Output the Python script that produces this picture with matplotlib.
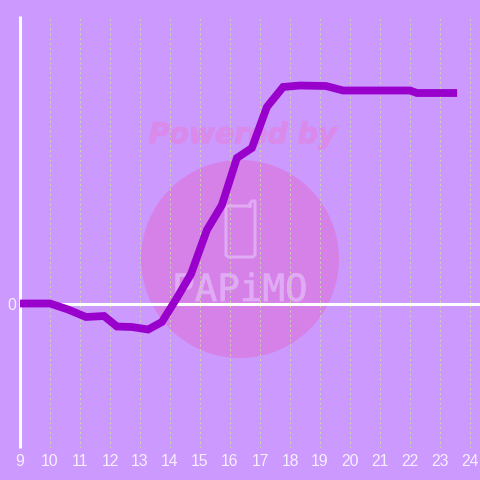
#Recreate the hourly line chart with the watermark behind it
import matplotlib
matplotlib.use("Agg")
import matplotlib.pyplot as plt
import matplotlib.patheffects as pe
from matplotlib.patches import Circle

#Data
hours = [9, 10, 10.6, 11.2, 11.8, 12.23, 12.73, 13.27, 13.73, 14.23, 14.7, 15.23, 15.73, 16.23, 16.73, 17.23, 17.77, 18.33, 19.2, 19.77, 22, 22.23, 23.57]
values = [0, 0, -6, -13.5, -12.5, -23, -23.5, -26, -18.5, 5.5, 29.5, 73.5, 98.5, 145.5, 155.5, 196.5, 216.5, 218, 217.5, 213, 213, 210.5, 210.5]
x_ticks = list(range(9, 25))
y_ticks = [0]

bg_color = "#cc99ff"
line_color = "#9900cc"
grid_color = "#ccd8ac"
mark_color = "#e0aaf4"
powered_color = "#da8aea"

fig = plt.figure(figsize=(4.8, 4.8), dpi=100, facecolor=bg_color)

#Watermark layer, in picture pixels
wm = fig.add_axes([0, 0, 1, 1], zorder=0)
wm.set_xlim(0, 480)
wm.set_ylim(480, 0)
wm.axis("off")
wm.add_patch(Circle((240, 259), 99, facecolor="#d681e8", edgecolor="none"))
wm.text(242.5, 135, "Powered by", family="DejaVu Sans", weight="bold", style="italic",
        fontsize=20.4, color=powered_color, ha="center", va="center",
        path_effects=[pe.withStroke(linewidth=0.8, foreground=powered_color)])
wm.plot([250, 250, 252, 255, 255, 255, 253, 228, 226, 226, 250],
        [206, 203, 201, 201, 203, 255, 257, 257, 255, 206, 206], color=mark_color, lw=2.2)
wm.text(240, 291, "PAPiMO", family="DejaVu Sans Mono", fontsize=27, color=mark_color,
        ha="center", va="center",
        path_effects=[pe.withStroke(linewidth=0.5, foreground=mark_color)])

#Chart layer
ax = fig.add_axes([20 / 480, 32 / 480, 460 / 480, 432 / 480], zorder=1)
ax.patch.set_alpha(0)
ax.set_xlim(9, 9 + 460 / 30)
ax.set_ylim(-144.5, 287.5)
ax.set_xticks(x_ticks)
ax.set_yticks(y_ticks)
ax.tick_params(length=0, labelcolor="#f8f0ff", labelsize=11.3, pad=4)
for label in ax.get_xticklabels() + ax.get_yticklabels():
    label.set_family("Liberation Sans")
ax.tick_params(axis="y", pad=3)
ax.xaxis.grid(True, color=grid_color, lw=0.7, ls=(0, (2, 3)))
ax.set_axisbelow(True)

for side in ["top", "right", "bottom"]:
    ax.spines[side].set_visible(False)
ax.spines["left"].set_color("white")
ax.spines["left"].set_linewidth(2.2)
ax.spines["left"].set_capstyle("butt")
ax.axhline(0, color="white", lw=2.2, zorder=2)

ax.plot(hours, values, color=line_color, lw=5.6, solid_joinstyle="miter", solid_capstyle="butt", zorder=3)

fig.savefig("out.png", dpi=100, facecolor=bg_color)
